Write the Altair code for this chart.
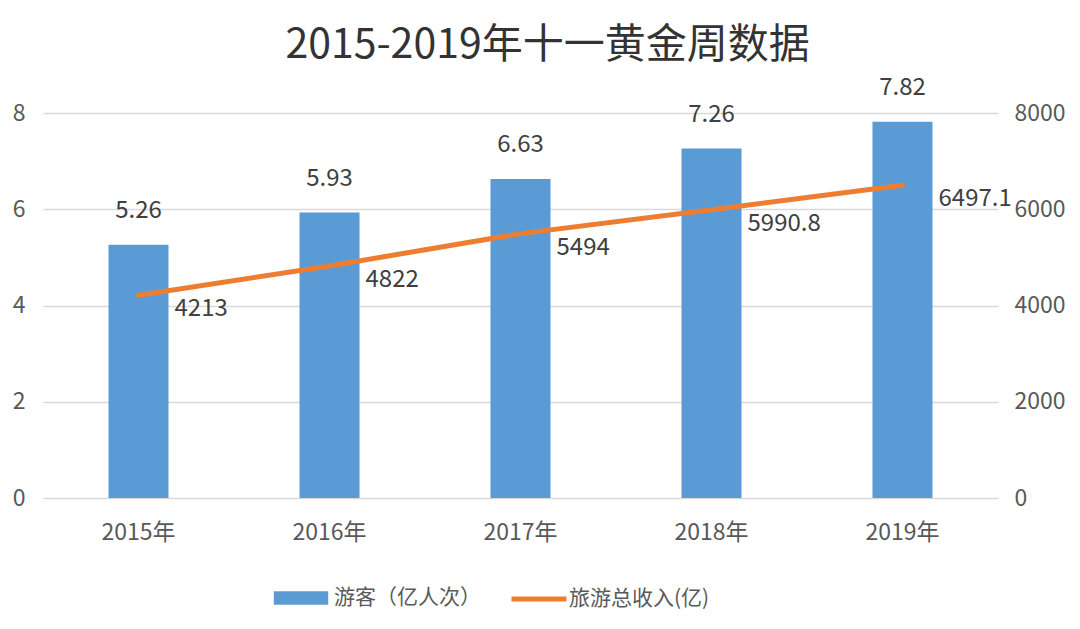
import altair as alt
import pandas as pd

years = ["2015年", "2016年", "2017年", "2018年", "2019年"]
visitors = [5.26, 5.93, 6.63, 7.26, 7.82]
revenue = [4213, 4822, 5494, 5990.8, 6497.1]
revenue_labels = ["4213", "4822", "5494", "5990.8", "6497.1"]
bar_name = "游客（亿人次）"
line_name = "旅游总收入(亿)"

df = pd.DataFrame({
    "year": years,
    "visitors": visitors,
    "revenue": revenue,
    "bar_series": [bar_name] * len(years),
    "line_series": [line_name] * len(years),
    "rev_label": revenue_labels,
})

FONT = "Noto Sans CJK SC"
BLUE = "#5B9BD5"
ORANGE = "#ED7D31"
GREY = "#595959"

x = alt.X("year:N", sort=years, title=None,
          axis=alt.Axis(labelAngle=0, labelFontSize=23, labelColor=GREY, labelFont=FONT,
                        labelPadding=23, domain=False, ticks=False))

base = alt.Chart(df).encode(x=x)

bars = base.mark_bar(size=60).encode(
    y=alt.Y("visitors:Q", title=None,
            scale=alt.Scale(domain=[0, 8]),
            axis=alt.Axis(values=[0, 2, 4, 6, 8], labelFontSize=23, labelColor=GREY, labelFont=FONT,
                          labelPadding=18, domain=False, ticks=False, gridColor="#d9d9d9", gridWidth=1.5)),
    fill=alt.Fill("bar_series:N", title=None,
                  scale=alt.Scale(domain=[bar_name], range=[BLUE]),
                  legend=alt.Legend(orient="none", legendX=244, legendY=471,
                                    symbolType="M-2,-0.5L2,-0.5L2,0.5L-2,0.5Z", symbolSize=740,
                                    labelFontSize=21, labelColor=GREY, labelFont=FONT,
                                    labelOffset=19, symbolStrokeWidth=0)),
)

bar_text = base.mark_text(dy=-34, fontSize=24, color="#404040", font=FONT).encode(
    y=alt.Y("visitors:Q", scale=alt.Scale(domain=[0, 8])),
    text=alt.Text("visitors:Q", format=".2f"),
)

left = alt.layer(bars, bar_text)

line = base.mark_line(strokeWidth=5, strokeCap="round").encode(
    y=alt.Y("revenue:Q", title=None,
            scale=alt.Scale(domain=[0, 8000]),
            axis=alt.Axis(values=[0, 2000, 4000, 6000, 8000], format="d", orient="right", labelFontSize=23,
                          labelColor=GREY, labelFont=FONT, labelPadding=16, domain=False,
                          ticks=False, grid=False)),
    stroke=alt.Stroke("line_series:N", title=None,
                      scale=alt.Scale(domain=[line_name], range=[ORANGE]),
                      legend=alt.Legend(orient="none", legendX=466, legendY=456,
                                        symbolType="stroke", symbolSize=3025, symbolStrokeWidth=5,
                                        labelFontSize=21, labelColor=GREY, labelFont=FONT,
                                        labelOffset=0)),
)

line_text = base.mark_text(align="left", dx=36, dy=14, fontSize=24, color="#404040", font=FONT).encode(
    y=alt.Y("revenue:Q", scale=alt.Scale(domain=[0, 8000])),
    text="rev_label:N",
)

right = alt.layer(line, line_text)

chart = alt.layer(left, right).resolve_scale(y="independent").properties(
    width=955, height=385,
    title=alt.TitleParams("2015-2019年十一黄金周数据", fontSize=41, font=FONT, fontWeight="normal",
                          color="#333333", offset=9, dx=27, anchor="middle"),
    autosize=alt.AutoSizeParams(type="none"),
    padding={"left": 35, "top": 105, "right": 74, "bottom": 123},
).configure_view(stroke=None).configure_axisX(grid=False)

chart.save("out.html", embed_options={"renderer": "svg", "actions": False})
